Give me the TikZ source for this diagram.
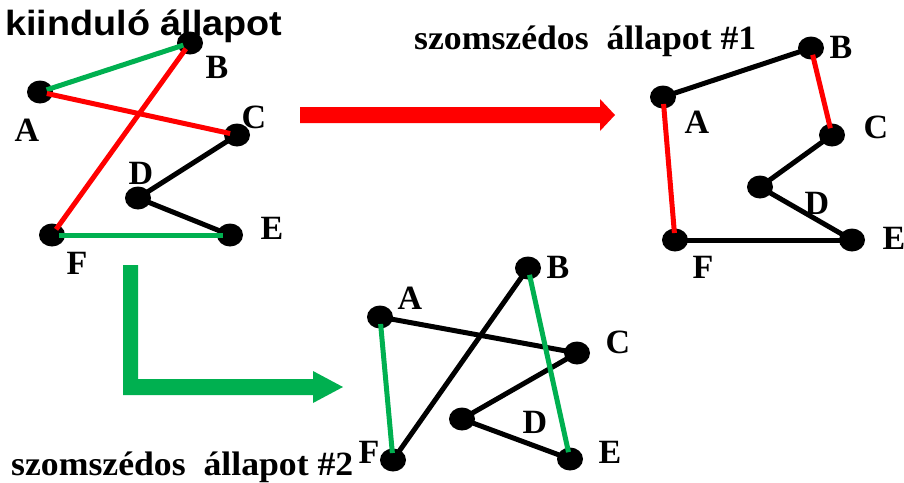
\documentclass[tikz,border=0pt]{standalone}
\usepackage{fontspec}
\setmainfont{Liberation Serif}
\newfontfamily\headsans{Liberation Sans}
\usetikzlibrary{shapes.geometric}
\definecolor{okgreen}{HTML}{00B050}
\definecolor{okred}{HTML}{FF0000}
\begin{document}
\begin{tikzpicture}[x=1pt,y=-1pt,
  city/.style={ellipse,fill=black,minimum width=26pt,minimum height=23pt,inner sep=0pt},
  lbl/.style={inner sep=0pt,font=\fontsize{34}{34}\selectfont\bfseries},
  ttl/.style={inner sep=0pt,anchor=base west,font=\fontsize{34}{34}\selectfont\bfseries},
  tour/.style={line width=5pt,shorten <=7pt,shorten >=7pt},
  blk/.style={tour,black},
  rd/.style={tour,okred},
  gr/.style={tour,okgreen}]
\useasboundingbox (0,0) rectangle (904,482);

% ---- starting tour ----
\node[inner sep=0pt,anchor=base west,font=\headsans\fontsize{35}{35}\selectfont\bfseries]
  (t0) at (5,35) {\scalebox{1.08}[1]{kiinduló állapot}};
\node[city] (sA) at (40,92) {};
\node[city] (sB) at (190,43) {};
\node[city] (sC) at (237,135) {};
\node[city] (sD) at (138,198) {};
\node[city] (sE) at (230,235) {};
\node[city] (sF) at (52,235) {};
\draw[gr]  (sA.center) -- (sB.center);
\draw[rd]  (sA.center) -- (sC.center);
\draw[rd]  (sB.center) -- (sF.center);
\draw[blk] (sC.center) -- (sD.center);
\draw[blk] (sD.center) -- (sE.center);
\draw[gr]  (sE.center) -- (sF.center);
\node[lbl] (lA0) at (27,130) {A};
\node[lbl] (lB0) at (217,67) {B};
\node[lbl] (lC0) at (254,117) {C};
\node[lbl] (lD0) at (141,173) {D};
\node[lbl] (lE0) at (272,228) {E};
\node[lbl] (lF0) at (77,263) {F};

% ---- moves ----
\fill[okred] (300,107) -- (600,107) -- (600,99) -- (615,115) -- (600,131)
  -- (600,123) -- (300,123) -- cycle;
\fill[okgreen] (123,265) -- (138,265) -- (138,379) -- (313,379) -- (313,371)
  -- (343,387) -- (313,403) -- (313,395) -- (123,395) -- cycle;

% ---- neighbour #1 ----
\node[ttl] (t1) at (414,49) {\scalebox{1.05}[1]{szomszédos\ \ állapot \#1}};
\node[city] (pA) at (663,97) {};
\node[city] (pB) at (811,48) {};
\node[city] (pC) at (832,135) {};
\node[city] (pD) at (760,187) {};
\node[city] (pE) at (852,240) {};
\node[city] (pF) at (675,240) {};
\draw[blk] (pA.center) -- (pB.center);
\draw[rd]  (pB.center) -- (pC.center);
\draw[blk] (pC.center) -- (pD.center);
\draw[blk] (pD.center) -- (pE.center);
\draw[blk] (pE.center) -- (pF.center);
\draw[rd]  (pF.center) -- (pA.center);
\node[lbl] (lA1) at (697,122) {A};
\node[lbl] (lB1) at (841,47) {B};
\node[lbl] (lC1) at (876,127) {C};
\node[lbl] (lD1) at (817,203) {D};
\node[lbl] (lE1) at (894,238) {E};
\node[lbl] (lF1) at (703,267) {F};

% ---- neighbour #2 ----
\node[ttl] (t2) at (11,475) {\scalebox{1.05}[1]{szomszédos\ \ állapot \#2}};
\node[city] (qA) at (380,317) {};
\node[city] (qB) at (528,268) {};
\node[city] (qC) at (577,353) {};
\node[city] (qD) at (462,419) {};
\node[city] (qE) at (570,459) {};
\node[city] (qF) at (393,460) {};
\draw[blk] (qA.center) -- (qC.center);
\draw[blk] (qC.center) -- (qD.center);
\draw[blk] (qD.center) -- (qE.center);
\draw[blk] (qB.center) -- (qF.center);
\draw[gr]  (qA.center) -- (qF.center);
\draw[gr]  (qB.center) -- (qE.center);
\node[lbl] (lA2) at (410,298) {A};
\node[lbl] (lB2) at (558,267) {B};
\node[lbl] (lC2) at (618,342) {C};
\node[lbl] (lD2) at (535,422) {D};
\node[lbl] (lE2) at (610,452) {E};
\node[lbl] (lF2) at (369,452) {F};
\end{tikzpicture}
\end{document}
